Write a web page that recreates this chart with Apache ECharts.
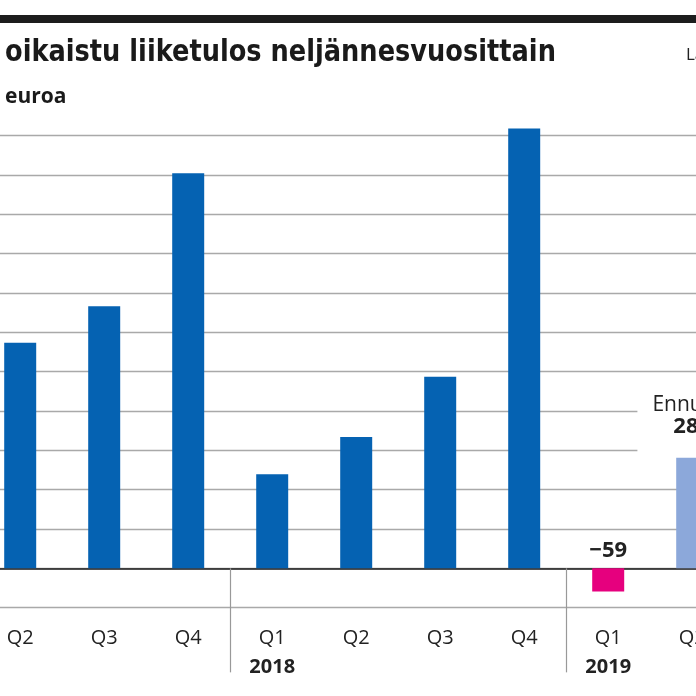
<!DOCTYPE html>
<html>
<head>
<meta charset="utf-8">
<script src="https://cdn.jsdelivr.net/npm/echarts@6/dist/echarts.min.js"></script>
<style>
html,body{margin:0;padding:0;background:#fff;}
#c{width:696px;height:696px;}
</style>
</head>
<body>
<div id="c"></div>
<script>
// ---- data ----
const quarters = ['Q2', 'Q3', 'Q4', 'Q1', 'Q2', 'Q3', 'Q4', 'Q1', 'Q2'];
const years = ['', '', '', '2018', '', '', '', '2019', ''];
const values = [573, 666, 1004, 239, 334, 487, 1118, -59, 281];
const forecastIndex = 8;
const forecastText = 'Ennuste';
const yTicks = { min: -100, max: 1100, interval: 100 };
const titleText = 'oikaistu liiketulos neljännesvuosittain';
const unitText = 'euroa';
const sourceText = 'Lähde';

const categories = quarters.map((q, i) => years[i] ? q + '\n' + years[i] : q);

const BLUE = '#0562B2', LIGHT = '#8CA8DA', PINK = '#E6007E';

const seriesData = values.map((v, i) => {
  if (i === forecastIndex) {
    return {
      value: v,
      label: {
        show: true,
        position: 'top',
        distance: 5,
        formatter: p => '{a|' + forecastText + '}\n{b|' + p.value + '}',
        backgroundColor: '#fff',
        padding: [8, 15, 16, 15],
        rich: {
          a: { fontFamily: 'Open Sans', fontSize: 21, lineHeight: 21, color: '#222' },
          b: { fontFamily: 'Open Sans', fontSize: 22, fontWeight: 'bold', lineHeight: 21, color: '#222' }
        }
      }
    };
  }
  if (v < 0) {
    return {
      value: v,
      label: {
        show: true,
        position: 'top',
        distance: 7,
        formatter: p => String(p.value).replace('-', '\u2212'),
        fontFamily: 'Open Sans', fontSize: 22, fontWeight: 'bold', color: '#222'
      }
    };
  }
  return { value: v };
});

const chart = echarts.init(document.getElementById('c'), null, { renderer: 'canvas' });
chart.setOption({
  backgroundColor: '#fff',
  animation: false,
  graphic: [
    { type: 'rect', shape: { x: 0, y: 15, width: 696, height: 8 }, style: { fill: '#1d1d1d' } },
    { type: 'text', x: 5, y: 53, scaleX: 0.92, style: { x: 0, y: 0, text: titleText, font: 'bold 31px "DejaVu Sans Condensed", sans-serif', fill: '#1a1a1a', textVerticalAlign: 'middle' } },
    { type: 'text', style: { x: 5, y: 97, text: unitText, font: 'bold 21px "Open Sans", sans-serif', fill: '#1a1a1a', textVerticalAlign: 'middle' } },
    { type: 'text', style: { x: 686, y: 55, text: sourceText, font: '17px "Open Sans", sans-serif', fill: '#222', textVerticalAlign: 'middle' } }
  ],
  grid: { left: -21.8, right: -38.2, top: 135.5, bottom: 88.3, containLabel: false, outerBoundsMode: 'none' },
  xAxis: {
    type: 'category',
    data: categories,
    boundaryGap: true,
    axisLine: { show: true, onZero: true, lineStyle: { color: '#1a1a1a', width: 1.5 } },
    axisTick: {
      show: true,
      length: 104,
      interval: (i) => years[i] !== '',
      lineStyle: { color: '#999', width: 1.2 }
    },
    axisLabel: {
      interval: 0,
      margin: 16,
      fontFamily: 'Open Sans',
      fontSize: 20,
      lineHeight: 29,
      color: '#222',
      formatter: (val) => {
        const parts = val.split('\n');
        return parts.length > 1 ? parts[0] + '\n{y|' + parts[1] + '}' : parts[0];
      },
      rich: {
        y: { fontFamily: 'Open Sans', fontSize: 20, fontWeight: 'bold', lineHeight: 29, color: '#222' }
      }
    },
    splitLine: { show: false }
  },
  yAxis: {
    type: 'value',
    min: yTicks.min,
    max: yTicks.max,
    interval: yTicks.interval,
    axisLine: { show: false },
    axisTick: { show: false },
    axisLabel: { show: false },
    splitLine: { show: true, lineStyle: { color: '#a9a9a9', width: 1.4 } }
  },
  series: [{
    type: 'bar',
    data: seriesData,
    barWidth: 32,
    clip: false,
    itemStyle: {
      color: p => p.dataIndex === forecastIndex ? LIGHT : (p.value < 0 ? PINK : BLUE)
    },
    z: 3
  }]
});
</script>
</body>
</html>
